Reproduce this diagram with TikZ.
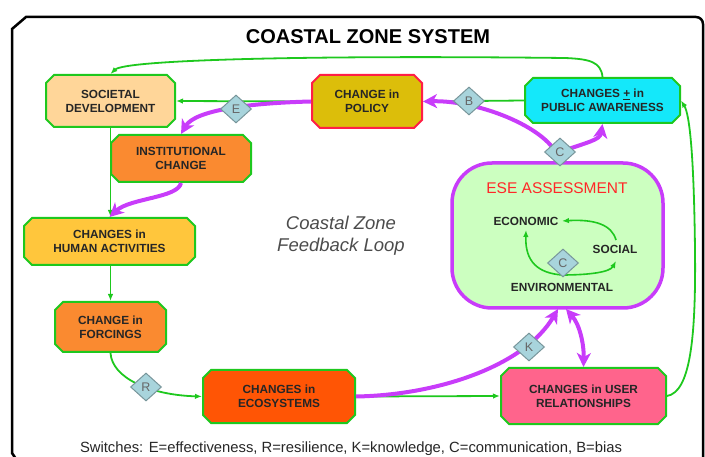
\documentclass[tikz,border=0pt]{standalone}
\usepackage{fontspec}
\setmainfont{Liberation Sans}
\usetikzlibrary{shapes.misc,shapes.geometric,arrows.meta}
\definecolor{gr}{RGB}{30,200,30}
\definecolor{pur}{RGB}{200,60,250}
\definecolor{swf}{RGB}{168,212,220}
\definecolor{swd}{RGB}{120,150,155}
\definecolor{csoc}{RGB}{255,214,153}
\definecolor{cinst}{RGB}{250,138,48}
\definecolor{cpol}{RGB}{220,190,10}
\definecolor{cpolb}{RGB}{255,30,70}
\definecolor{cpub}{RGB}{20,232,250}
\definecolor{chum}{RGB}{255,198,60}
\definecolor{ceco}{RGB}{255,85,5}
\definecolor{cuser}{RGB}{255,100,140}
\definecolor{cese}{RGB}{204,255,192}
\definecolor{cred}{RGB}{255,40,40}
\begin{document}
\begin{tikzpicture}[x=1pt,y=-1pt,
  box/.style={chamfered rectangle, chamfered rectangle xsep=4pt, chamfered rectangle ysep=4pt,
    draw=gr, line width=2pt, align=center, inner sep=0pt,
    font=\fontsize{11.8}{14}\selectfont\bfseries, text=black!85},
  sw/.style={diamond, draw=swd, fill=swf, line width=1pt, minimum width=31pt, minimum height=28pt,
    inner sep=0pt, font=\fontsize{12.5}{12.5}\selectfont, text=black!60},
  garrow/.style={draw=gr, line width=1.8pt, -{Latex[length=7pt,width=5.5pt]}},
  parrow/.style={draw=pur, line width=4pt, -{Stealth[length=14pt,width=14pt,inset=4pt]}},
  eselbl/.style={font=\fontsize{11.8}{14}\selectfont\bfseries, text=black!85},
  ]
\useasboundingbox (0,0) rectangle (705,457);
\clip (0,0) rectangle (705,457);
% frame
\draw[line width=2.5pt, line join=miter] (18,462) -- (12,453) -- (12,29) -- (26,17) -- (696,17)
  to[out=0,in=90] (703,24) -- (703,462);
\node (title) at (368,37) {\fontsize{20}{22}\selectfont\bfseries COASTAL ZONE SYSTEM};
% ESE
\node[draw=pur, fill=cese, line width=3.5pt, rounded corners=40pt, minimum width=211pt, minimum height=145pt] (ese) at (557.5,235.5) {};
\node[text=cred, font=\fontsize{15.5}{16}\selectfont] (esett) at (557,188) {ESE ASSESSMENT};
\node[eselbl] (econ) at (526,221) {ECONOMIC};
\node[eselbl] (soci) at (615,249) {SOCIAL};
\node[eselbl] (envi) at (562,287) {ENVIRONMENTAL};
% boxes
\node[box, fill=csoc, minimum width=129pt, minimum height=52pt] (soc) at (110.5,101) {SOCIETAL\\DEVELOPMENT};
\node[box, fill=cinst, minimum width=140pt, minimum height=47pt] (inst) at (181,158.5) {INSTITUTIONAL\\CHANGE};
\node[box, fill=cpol, draw=cpolb, minimum width=110pt, minimum height=53pt] (pol) at (367,101.5) {CHANGE in\\POLICY};
\node[box, fill=cpub, minimum width=155pt, minimum height=45pt] (pub) at (602.5,100.5) {CHANGES \underline{+} in\\PUBLIC AWARENESS};
\node[box, fill=chum, minimum width=171pt, minimum height=47pt] (hum) at (109.5,241.5) {CHANGES in\\HUMAN ACTIVITIES};
\node[box, fill=cinst, minimum width=111pt, minimum height=50pt] (forc) at (110.5,327) {CHANGE in\\FORCINGS};
\node[box, fill=ceco, minimum width=152pt, minimum height=53pt] (eco) at (279,396.5) {CHANGES in\\ECOSYSTEMS};
\node[box, fill=cuser, minimum width=165pt, minimum height=56pt] (user) at (583.5,396) {CHANGES in USER\\RELATIONSHIPS};
% texts
\node[align=center, font=\fontsize{18.5}{22}\selectfont\itshape, text=black!70] (fb) at (341,236) {Coastal Zone\\Feedback Loop};
\node[font=\fontsize{14.8}{16}\selectfont, text=black!85] (sw) at (351,449) {Switches: E=effectiveness, R=resilience, K=knowledge, C=communication, B=bias};
% coordinates
\coordinate (eseb1) at (558,309);
\coordinate (eseb2) at (566,309);
\coordinate (eset) at (560,163);
% green connectors
\draw[garrow] (pub.north) .. controls (601,62) and (590,59) .. (565,58) .. controls (300,55) and (125,60) .. (soc.north);
\draw[garrow] (pol.west) -- (soc.east);
\draw[garrow] (soc.south) -- (soc.south |- hum.north);
\draw[garrow] (hum.south -| forc.north) -- (forc.north);
\draw[garrow] (forc.south) .. controls (112,378) and (150,395) .. (eco.west);
\draw[garrow] (eco.east) -- (user.west);
\draw[garrow] (user.east) .. controls (690,392) and (696,340) .. (695,250) .. controls (694,160) and (690,115) .. (pub.east);
\draw[garrow] (pub.west) -- (pol.east);
% ESE internal
\draw[garrow, line width=1.6pt] (616,240) .. controls (612,225) and (595,219) .. (econ.east);
\draw[garrow, line width=1.6pt] (562,275) .. controls (538,273) and (525,262) .. (526,230);
\draw[garrow, line width=1.6pt] (562,275) .. controls (590,275) and (610,272) .. (616,261);
% purple connectors
\draw[parrow] (pol.west) .. controls (250,103) and (195,110) .. (inst.north);
\draw[parrow] (inst.south) .. controls (178,198) and (130,198) .. (hum.north);
\draw[parrow] (eco.east) .. controls (440,395) and (525,365) .. (eseb1);
\draw[draw=pur, line width=4pt, {Stealth[length=14pt,width=14pt,inset=4pt]}-{Stealth[length=14pt,width=14pt,inset=4pt]}] (eseb2) .. controls (580,325) and (584,345) .. (user.north);
\draw[parrow] (eset) .. controls (555,130) and (480,100) .. (pol.east);
\draw[parrow] (560,152) .. controls (588,142) and (600,140) .. (pub.south);
% switches
\node[sw] (dE) at (236,109) {E};
\node[sw] (dB) at (469,101) {B};
\node[sw] (dC) at (560,152) {C};
\node[sw] (dR) at (146,387) {R};
\node[sw] (dK) at (529,347) {K};
\node[sw] (dC2) at (563,263) {C};
\end{tikzpicture}
\end{document}
